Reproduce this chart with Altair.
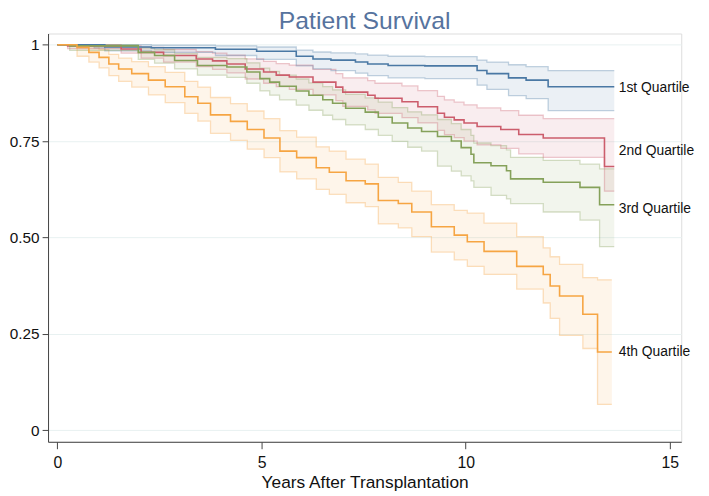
import altair as alt
import pandas as pd

# ---- data ----
quartiles = ["1st Quartile", "2nd Quartile", "3rd Quartile", "4th Quartile"]

t1 = [0, 0.9, 1.16, 2.3, 3.87, 4.88, 5.85, 6.26, 6.7, 7.3, 7.6, 8.1, 9.0, 10.28, 10.52, 11.05, 11.48, 12.02, 13.64]
s1 = [1, 1, 0.994, 0.992, 0.988, 0.983, 0.970, 0.963, 0.960, 0.955, 0.950, 0.946, 0.945, 0.933, 0.925, 0.914, 0.908, 0.891, 0.891]
hi1 = [1, 1, 1, 0.999, 0.997, 0.994, 0.986, 0.981, 0.979, 0.976, 0.973, 0.970, 0.969, 0.960, 0.955, 0.948, 0.943, 0.933, 0.933]
lo1 = [1, 0.992, 0.984, 0.980, 0.972, 0.962, 0.945, 0.937, 0.933, 0.926, 0.920, 0.914, 0.912, 0.895, 0.884, 0.868, 0.860, 0.829, 0.829]

t2 = [0, 0.25, 1.56, 2.05, 2.6, 3.4, 3.8, 4.15, 4.6, 5.05, 5.36, 5.68, 6.26, 6.82, 6.99, 7.6, 7.78, 8.44, 8.83, 9.31,
      9.48, 9.72, 9.96, 10.28, 10.86, 11.3, 11.9, 13.4, 13.64]
s2 = [1, 0.997, 0.989, 0.980, 0.972, 0.963, 0.958, 0.950, 0.937, 0.929, 0.921, 0.916, 0.903, 0.890, 0.877, 0.869, 0.861,
      0.852, 0.839, 0.822, 0.812, 0.805, 0.797, 0.788, 0.780, 0.767, 0.758, 0.684, 0.684]
hi2 = [1, 1, 0.997, 0.993, 0.988, 0.982, 0.978, 0.973, 0.963, 0.957, 0.951, 0.947, 0.936, 0.925, 0.914, 0.907, 0.900,
       0.893, 0.881, 0.866, 0.857, 0.851, 0.844, 0.836, 0.829, 0.817, 0.808, 0.808, 0.808]
lo2 = [1, 0.99, 0.978, 0.965, 0.955, 0.943, 0.936, 0.927, 0.911, 0.900, 0.891, 0.884, 0.870, 0.855, 0.840, 0.831, 0.822,
       0.811, 0.797, 0.778, 0.767, 0.759, 0.750, 0.740, 0.731, 0.717, 0.708, 0.62, 0.62]

t3 = [0, 0.3, 1.98, 2.38, 2.87, 3.43, 4.15, 4.64, 4.96, 5.2, 5.44, 5.85, 6.16, 6.5, 6.74, 7.06, 7.54, 7.86, 8.2, 8.58,
      8.92, 9.31, 9.65, 9.89, 10.13, 10.2, 10.62, 11.0, 11.1, 11.9, 12.8, 13.28, 13.64]
s3 = [1, 0.997, 0.980, 0.972, 0.959, 0.946, 0.942, 0.929, 0.912, 0.903, 0.892, 0.880, 0.869, 0.857, 0.848, 0.835, 0.825,
      0.812, 0.797, 0.784, 0.775, 0.762, 0.750, 0.733, 0.716, 0.694, 0.686, 0.673, 0.652, 0.643, 0.630, 0.585, 0.585]
hi3 = [1, 1, 0.992, 0.987, 0.977, 0.967, 0.964, 0.953, 0.939, 0.931, 0.921, 0.911, 0.901, 0.891, 0.883, 0.871, 0.862,
       0.851, 0.837, 0.826, 0.818, 0.806, 0.795, 0.780, 0.765, 0.745, 0.738, 0.727, 0.708, 0.700, 0.690, 0.678, 0.678]
lo3 = [1, 0.985, 0.962, 0.952, 0.937, 0.921, 0.915, 0.900, 0.880, 0.869, 0.857, 0.843, 0.830, 0.817, 0.806, 0.792, 0.780,
       0.765, 0.749, 0.734, 0.724, 0.685, 0.672, 0.660, 0.647, 0.630, 0.609, 0.600, 0.588, 0.566, 0.545, 0.476, 0.476]

t4 = [0, 0.48, 0.77, 1.02, 1.26, 1.5, 1.82, 2.23, 2.64, 3.12, 3.44, 3.75, 4.24, 4.65, 5.06, 5.45, 5.86, 6.34, 6.66,
      7.07, 7.54, 7.86, 8.35, 8.68, 9.16, 9.72, 10.04, 10.45, 11.25, 11.9, 12.07, 12.3, 12.87, 13.23, 13.58]
s4 = [1, 0.993, 0.98, 0.967, 0.95, 0.937, 0.925, 0.908, 0.891, 0.865, 0.848, 0.818, 0.801, 0.780, 0.758, 0.724, 0.707,
      0.681, 0.669, 0.647, 0.639, 0.596, 0.588, 0.566, 0.528, 0.506, 0.489, 0.464, 0.425, 0.404, 0.374, 0.348, 0.301,
      0.203, 0.203]
hi4 = [1, 1, 0.995, 0.987, 0.975, 0.965, 0.956, 0.943, 0.928, 0.905, 0.890, 0.863, 0.847, 0.828, 0.808, 0.777, 0.760,
       0.735, 0.724, 0.703, 0.690, 0.656, 0.643, 0.620, 0.585, 0.570, 0.563, 0.537, 0.502, 0.473, 0.450, 0.430, 0.396,
       0.390, 0.390]
lo4 = [1, 0.97, 0.955, 0.940, 0.920, 0.905, 0.890, 0.870, 0.850, 0.822, 0.802, 0.770, 0.752, 0.729, 0.707, 0.670, 0.652,
       0.625, 0.612, 0.590, 0.580, 0.535, 0.525, 0.502, 0.462, 0.442, 0.425, 0.404, 0.366, 0.330, 0.290, 0.246, 0.212,
       0.067, 0.067]

label_x = [13.75, 13.75, 13.75, 13.75]
label_y = [0.888, 0.724, 0.573, 0.202]

colors = ["#4A78A4", "#CC5D6C", "#85A15A", "#F6A543"]

x_ticks = [0, 5, 10, 15]
y_ticks = [0, 0.25, 0.5, 0.75, 1]

title_text = "Patient Survival"

# ---- build table ----
rows = []
for q, tt, ss, hh, ll in zip(quartiles, [t1, t2, t3, t4], [s1, s2, s3, s4], [hi1, hi2, hi3, hi4], [lo1, lo2, lo3, lo4]):
    for a, b, c, d in zip(tt, ss, hh, ll):
        rows.append({"q": q, "t": a, "s": b, "hi": c, "lo": d})
df = pd.DataFrame(rows)
labels = pd.DataFrame({"q": quartiles, "t": label_x, "s": label_y})

FONT = "Liberation Sans"
W, H = 640.5, 413

xscale = alt.Scale(domain=[-0.23, 15.28], nice=False, zero=False)
yscale = alt.Scale(domain=[-0.03, 1.029], nice=False, zero=False)
cscale = alt.Scale(domain=quartiles, range=colors)

x_enc = alt.X("t:Q", scale=xscale, axis=alt.Axis(
    values=x_ticks, title="Years After Transplantation", grid=False,
    labelFontSize=16, labelFont=FONT, labelColor="#111", labelPadding=6,
    tickSize=7, tickColor="#444", domainColor="#444",
    titleFontSize=17.5, titleFont=FONT, titleFontWeight="normal", titleColor="#111",
    titleBaseline="alphabetic", titleY=46))
y_enc = alt.Y("s:Q", scale=yscale, axis=alt.Axis(
    values=y_ticks, title=None, grid=True, gridColor="#E8F1F1", gridWidth=1,
    labelFontSize=15.5, labelFont=FONT, labelColor="#111", labelPadding=3,
    tickSize=6, tickColor="#444", domainColor="#444",
    labelExpr="datum.value == 1 ? '1' : datum.value == 0 ? '0' : format(datum.value, '.2f')"))

color_enc = alt.Color("q:N", scale=cscale, legend=None)

base = alt.Chart(df)

band = base.mark_area(interpolate="step-after", opacity=0.11).encode(
    x=x_enc, y=alt.Y("lo:Q", scale=yscale), y2="hi:Q", color=color_enc)
band_hi = base.mark_line(interpolate="step-after", opacity=0.33, strokeWidth=1.3).encode(
    x="t:Q", y=alt.Y("hi:Q", scale=yscale), color=color_enc, detail="q:N")
band_lo = base.mark_line(interpolate="step-after", opacity=0.33, strokeWidth=1.3).encode(
    x="t:Q", y=alt.Y("lo:Q", scale=yscale), color=color_enc, detail="q:N")
lines = base.mark_line(interpolate="step-after", strokeWidth=1.6).encode(
    x="t:Q", y=y_enc, color=color_enc)
text = alt.Chart(labels).mark_text(align="left", baseline="middle", fontSize=14, font=FONT, color="#111").encode(
    x="t:Q", y="s:Q", text="q:N")
title = alt.Chart(pd.DataFrame({"label": [title_text]})).mark_text(
    align="center", baseline="alphabetic", fontSize=25, font=FONT, color="#56739E"
).encode(x=alt.value(W / 2), y=alt.value(-5), text="label:N")

chart = alt.layer(band, band_hi, band_lo, lines, text, title).properties(
    width=W, height=H,
    autosize=alt.AutoSizeParams(type="none"),
    padding={"left": 40.5, "top": 23, "right": 20, "bottom": 50},
).configure_view(stroke=None).configure(background="white")

chart.save("out.html", embed_options={"renderer": "svg", "actions": False})
